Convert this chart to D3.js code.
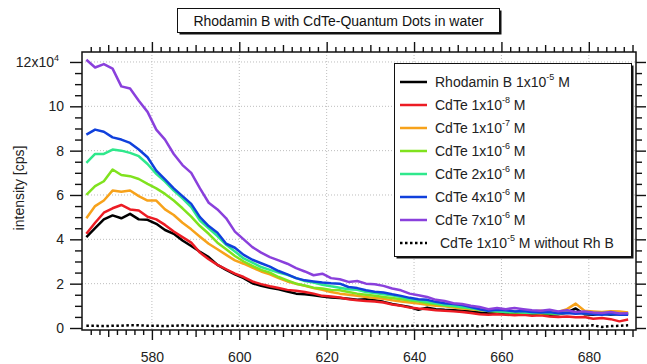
<!DOCTYPE html>
<html>
<head>
<meta charset="utf-8">
<script src="https://cdn.jsdelivr.net/npm/d3@7"></script>
<style>
body { margin: 0; background: #fff; }
svg { font-family: "Liberation Sans", Arial, sans-serif; }
</style>
</head>
<body>
<script>
// wavelength [nm], one reading every 2 nm
var wavelengths = [565,567,569,571,573,575,577,579,581,583,
    585,587,589,591,593,595,597,599,601,603,
    605,607,609,611,613,615,617,619,621,623,
    625,627,629,631,633,635,637,639,641,643,
    645,647,649,651,653,655,657,659,661,663,
    665,667,669,671,673,675,677,679,681,683,
    685,687,689];

// intensity in units of 1e4 cps
var rhodaminB = [4.1,4.5,4.9,5.08,4.95,5.15,4.9,4.88,4.7,4.42,
    4.25,3.95,3.7,3.44,3.2,2.85,2.62,2.42,2.25,2.02,
    1.9,1.82,1.75,1.65,1.55,1.52,1.48,1.42,1.38,1.35,
    1.32,1.28,1.3,1.25,1.18,1.08,1.02,0.95,0.82,0.92,
    0.85,0.82,0.8,0.78,0.74,0.7,0.65,0.68,0.65,0.62,
    0.64,0.6,0.62,0.6,0.62,0.7,0.88,0.62,0.6,0.65,
    0.6,0.63,0.66];

var cdte1e8 = [4.25,4.75,5.2,5.4,5.55,5.35,5.3,5.02,4.9,4.65,
    4.35,4.1,3.85,3.4,3.1,2.85,2.65,2.45,2.3,2.1,
    1.98,1.88,1.8,1.72,1.68,1.62,1.55,1.45,1.42,1.38,
    1.3,1.25,1.22,1.2,1.15,1.06,1.0,0.92,0.88,0.85,
    0.8,0.78,0.75,0.72,0.68,0.62,0.6,0.62,0.6,0.58,
    0.6,0.55,0.58,0.52,0.5,0.52,0.48,0.5,0.42,0.45,
    0.4,0.3,0.38];

var cdte1e7 = [4.95,5.5,5.75,6.2,6.15,6.2,5.95,5.75,5.75,5.35,
    5.1,4.75,4.45,4.12,3.8,3.55,3.3,3.05,2.9,2.72,
    2.55,2.42,2.25,2.1,2.0,1.9,1.8,1.72,1.62,1.55,
    1.5,1.45,1.4,1.35,1.32,1.25,1.2,1.15,1.1,1.05,
    1.0,0.98,0.92,0.88,0.85,0.8,0.78,0.75,0.8,0.74,
    0.72,0.75,0.78,0.7,0.72,0.85,1.1,0.78,0.75,0.72,
    0.76,0.74,0.7];

var cdte1e6 = [6.0,6.4,6.62,7.15,6.9,6.85,6.72,6.5,6.3,6.05,
    5.75,5.4,5.02,4.6,4.25,3.85,3.55,3.25,3.0,2.8,
    2.62,2.5,2.3,2.15,2.0,1.92,1.82,1.78,1.72,1.7,
    1.62,1.55,1.5,1.45,1.4,1.35,1.3,1.24,1.2,1.12,
    1.08,1.02,0.98,0.92,0.88,0.83,0.78,0.75,0.72,0.7,
    0.7,0.68,0.66,0.67,0.64,0.72,0.68,0.7,0.66,0.68,
    0.7,0.64,0.66];

var cdte2e6 = [7.45,7.85,7.85,8.05,8.0,7.9,7.75,7.4,6.95,6.6,
    6.2,5.85,5.45,4.85,4.5,4.15,3.75,3.45,3.14,2.95,
    2.75,2.62,2.5,2.4,2.25,2.12,2.05,1.95,1.88,1.82,
    1.75,1.72,1.62,1.58,1.52,1.48,1.4,1.3,1.25,1.18,
    1.12,1.05,1.0,0.95,0.9,0.82,0.78,0.75,0.72,0.73,
    0.7,0.68,0.7,0.66,0.65,0.68,0.7,0.66,0.65,0.62,
    0.64,0.62,0.62];

var cdte4e6 = [8.72,8.95,8.85,8.6,8.5,8.35,8.05,7.7,7.1,6.7,
    6.3,5.95,5.6,5.0,4.6,4.3,3.8,3.62,3.3,3.08,
    2.92,2.77,2.57,2.42,2.25,2.15,2.1,2.05,2.02,2.0,
    1.85,1.8,1.7,1.64,1.6,1.52,1.45,1.36,1.3,1.27,
    1.18,1.12,1.08,1.04,0.95,0.85,0.78,0.82,0.8,0.75,
    0.77,0.72,0.7,0.72,0.66,0.68,0.64,0.66,0.62,0.6,
    0.63,0.6,0.6];

var cdte7e6 = [12.1,11.75,11.9,11.7,10.9,10.8,10.25,9.75,8.95,8.5,
    7.85,7.35,7.0,6.3,5.65,5.35,4.95,4.35,4.0,3.65,
    3.4,3.2,3.05,2.9,2.7,2.55,2.38,2.45,2.25,2.2,
    2.08,2.12,2.0,1.97,1.9,1.78,1.7,1.55,1.48,1.4,
    1.27,1.22,1.12,1.08,1.0,0.95,0.85,0.9,0.85,0.9,
    0.85,0.8,0.78,0.82,0.75,0.8,0.72,0.75,0.7,0.68,
    0.72,0.65,0.66];

var cdteNoRhB = [0.1,0.1,0.09,0.1,0.1,0.13,0.12,0.1,0.1,0.09,
    0.1,0.12,0.1,0.1,0.1,0.09,0.1,0.1,0.1,0.1,
    0.1,0.1,0.11,0.1,0.1,0.1,0.12,0.1,0.1,0.11,
    0.1,0.1,0.1,0.12,0.1,0.1,0.09,0.1,0.1,0.1,
    0.09,0.1,0.1,0.1,0.11,0.08,0.12,0.1,0.1,0.1,
    0.1,0.1,0.11,0.1,0.1,0.1,0.1,0.1,0.12,0.05,
    0.09,0.1,0.12];

var seriesNames = ['Rhodamin B 1x10', 'CdTe 1x10', 'CdTe 1x10', 'CdTe 1x10',
    'CdTe 2x10', 'CdTe 4x10', 'CdTe 7x10', 'CdTe 1x10'];
var seriesExp = ['-5', '-8', '-7', '-6', '-6', '-6', '-6', '-5'];
var seriesSuffix = [' M', ' M', ' M', ' M', ' M', ' M', ' M', ' M without Rh B'];
var seriesColors = ['#000000', '#ec1c24', '#f7a21b', '#80e21e', '#2fe88c', '#1040dc', '#8a40dc', '#000000'];

var xTickLabels = [580, 600, 620, 640, 660, 680];
var yTickLabels = [0, 2, 4, 6, 8, 10, 12];

var titleText = 'Rhodamin B with CdTe-Quantum Dots in water';
var yAxisTitle = 'intensity [cps]';

var width = 647, height = 364;
var plot = {left: 82, right: 636, top: 52, bottom: 330};

var x = d3.scaleLinear().domain([564, 690.8]).range([plot.left, plot.right]);
var y = d3.scaleLinear().domain([-0.09, 12.45]).range([plot.bottom, plot.top]);

var svg = d3.select('body').append('svg')
    .attr('width', width)
    .attr('height', height);

// dotted grid at the major ticks
var grid = svg.append('g').attr('stroke', '#bdbdbd').attr('stroke-dasharray', '1,2');
grid.selectAll('line.gx').data(xTickLabels).enter().append('line')
    .attr('x1', function(d) { return x(d); }).attr('x2', function(d) { return x(d); })
    .attr('y1', plot.top).attr('y2', plot.bottom);
grid.selectAll('line.gy').data(yTickLabels.slice(1)).enter().append('line')
    .attr('y1', function(d) { return y(d); }).attr('y2', function(d) { return y(d); })
    .attr('x1', plot.left).attr('x2', plot.right);

// axes: majors, 10-nm mid ticks and minor ticks, on all four sides
var xMid = [570, 590, 610, 630, 650, 670, 690];
var xMinor = d3.range(566, 691, 2).filter(function(v) { return v % 10 != 0; });
var yMinor = d3.range(0, 12.5, 0.5).filter(function(v) { return v % 2 != 0; });

function addAxis(axis, transform) {
    var g = svg.append('g').attr('transform', transform).call(axis);
    g.select('.domain').remove();
    g.selectAll('line').attr('stroke', '#111').attr('stroke-width', 1.4);
    g.selectAll('text').attr('fill', '#222').style('font-size', '14px')
        .style('font-family', '"Liberation Sans", Arial, sans-serif');
    return g;
}

addAxis(d3.axisBottom(x).tickValues(xTickLabels).tickSize(10).tickPadding(12)
    .tickFormat(d3.format('d')), 'translate(0,' + plot.bottom + ')');
addAxis(d3.axisBottom(x).tickValues(xMid).tickSize(7).tickFormat(''), 'translate(0,' + plot.bottom + ')');
addAxis(d3.axisBottom(x).tickValues(xMinor).tickSize(5).tickFormat(''), 'translate(0,' + plot.bottom + ')');
addAxis(d3.axisTop(x).tickValues(xTickLabels).tickSize(10).tickFormat(''), 'translate(0,' + plot.top + ')');
addAxis(d3.axisTop(x).tickValues(xMid).tickSize(7).tickFormat(''), 'translate(0,' + plot.top + ')');
addAxis(d3.axisTop(x).tickValues(xMinor).tickSize(5).tickFormat(''), 'translate(0,' + plot.top + ')');

var yAxisG = addAxis(d3.axisLeft(y).tickValues(yTickLabels).tickSize(12).tickPadding(6)
    .tickFormat(function(d) { return d == 12 ? '12x10' : d; }), 'translate(' + plot.left + ',0)');
addAxis(d3.axisLeft(y).tickValues(yMinor).tickSize(7).tickFormat(''), 'translate(' + plot.left + ',0)');
addAxis(d3.axisRight(y).tickValues(yTickLabels).tickSize(10).tickFormat(''), 'translate(' + plot.right + ',0)');
addAxis(d3.axisRight(y).tickValues(yMinor).tickSize(6).tickFormat(''), 'translate(' + plot.right + ',0)');

// exponent on the top y label
yAxisG.selectAll('.tick text').filter(function(d) { return d == 12; })
    .attr('dx', '-5')
    .append('tspan').attr('dy', '-6').style('font-size', '9px').text('4');

// frame
svg.append('rect')
    .attr('x', plot.left).attr('y', plot.top)
    .attr('width', plot.right - plot.left).attr('height', plot.bottom - plot.top)
    .attr('fill', 'none').attr('stroke', '#111').attr('stroke-width', 1.5);

// data
var allSeries = [rhodaminB, cdte1e8, cdte1e7, cdte1e6, cdte2e6, cdte4e6, cdte7e6, cdteNoRhB];

var line = d3.line()
    .x(function(d, i) { return x(wavelengths[i]); })
    .y(function(d) { return y(d); });

svg.append('g').selectAll('path')
    .data(allSeries)
  .enter().append('path')
    .attr('d', line)
    .attr('fill', 'none')
    .attr('stroke', function(d, i) { return seriesColors[i]; })
    .attr('stroke-width', 2.5)
    .attr('stroke-linejoin', 'round')
    .attr('stroke-dasharray', function(d, i) { return i == 7 ? '2.5,2.5' : null; });

// y axis title
svg.append('text')
    .attr('transform', 'translate(24,188) rotate(-90)')
    .attr('text-anchor', 'middle')
    .attr('fill', '#222')
    .style('font-size', '14px')
    .text(yAxisTitle);

// title box
function shadowBox(bx, by, bw, bh) {
    svg.append('rect').attr('x', bx + 2).attr('y', by + 2).attr('width', bw).attr('height', bh)
        .attr('fill', '#111');
    svg.append('rect').attr('x', bx).attr('y', by).attr('width', bw).attr('height', bh)
        .attr('fill', '#fff').attr('stroke', '#111').attr('stroke-width', 1);
}

shadowBox(177.5, 8.5, 322, 24);
svg.append('text')
    .attr('x', 338.5).attr('y', 26)
    .attr('text-anchor', 'middle')
    .attr('fill', '#111')
    .style('font-size', '14px')
    .text(titleText);

// legend
shadowBox(394.5, 63.5, 237, 193);
var legend = svg.append('g');
var rows = legend.selectAll('g')
    .data(seriesNames)
  .enter().append('g')
    .attr('transform', function(d, i) { return 'translate(0,' + (82 + i * 23) + ')'; });

rows.append('line')
    .attr('x1', 400).attr('x2', 427)
    .attr('stroke', function(d, i) { return seriesColors[i]; })
    .attr('stroke-width', 2.5)
    .attr('stroke-dasharray', function(d, i) { return i == 7 ? '2.5,2.5' : null; });

var labels = rows.append('text')
    .attr('x', function(d, i) { return i == 7 ? 440 : 435; })
    .attr('y', 5)
    .attr('fill', '#222')
    .style('font-size', '14px')
    .text(function(d) { return d; });
labels.append('tspan')
    .attr('dy', -7)
    .style('font-size', '9px')
    .text(function(d, i) { return seriesExp[i]; });
labels.append('tspan')
    .attr('dy', 7)
    .text(function(d, i) { return seriesSuffix[i]; });
</script>
</body>
</html>
